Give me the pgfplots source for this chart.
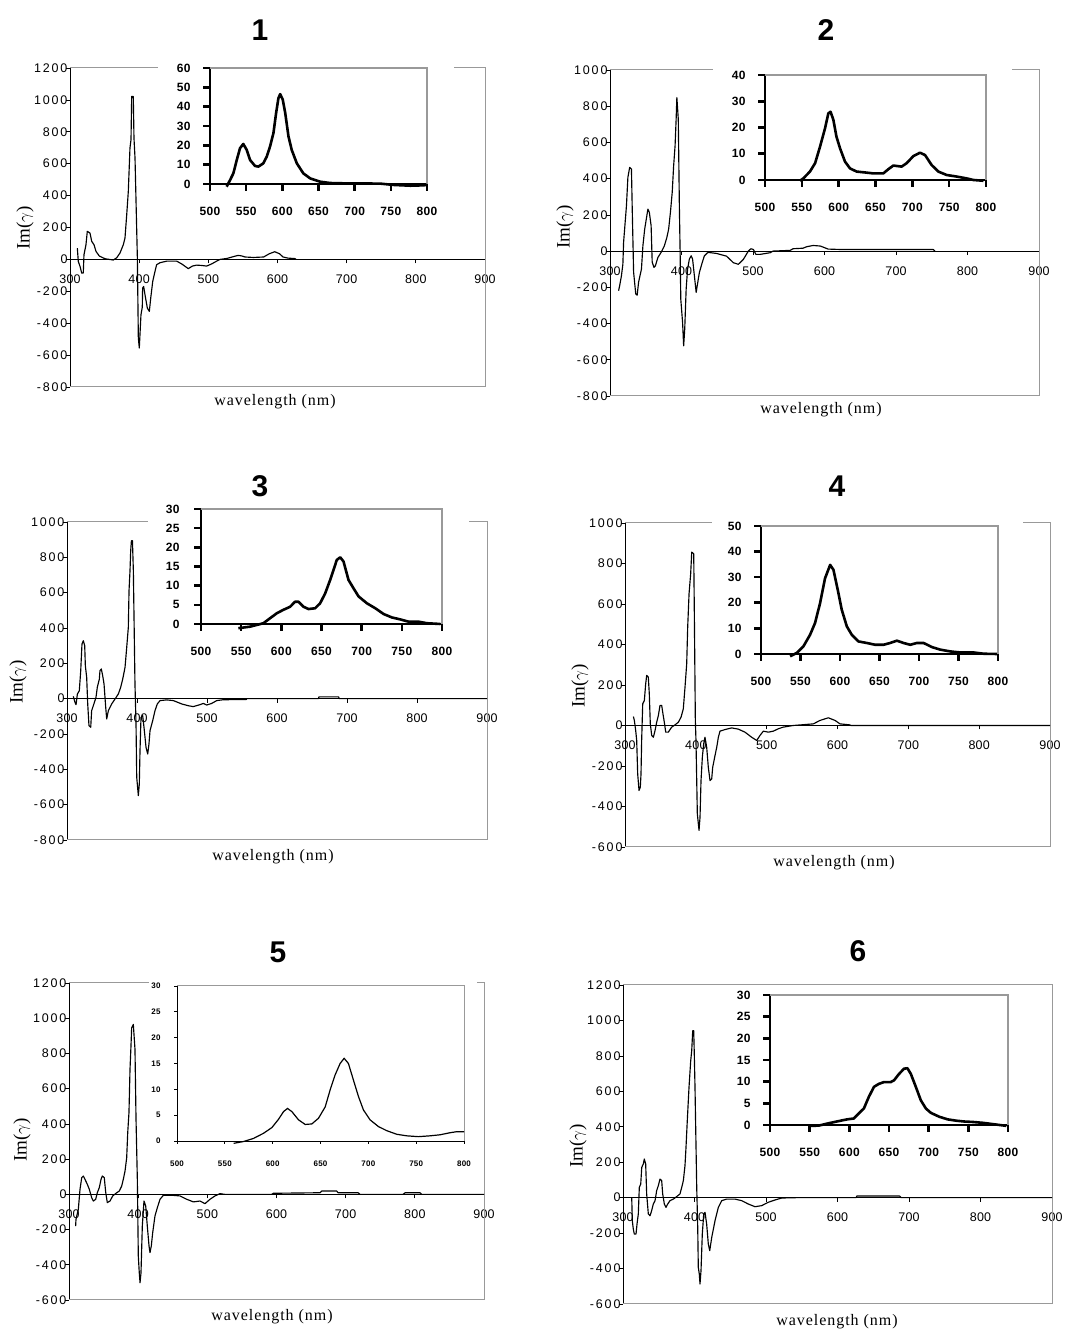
\documentclass[border=0pt]{standalone}
\usepackage{fontspec}
\usepackage{pgfplots}
\pgfplotsset{compat=1.18}
\setmainfont{Liberation Serif}
\newfontfamily\tickfy[LetterSpace=15]{Liberation Sans}
\newfontfamily\tickfx[LetterSpace=2]{Liberation Sans}
\newfontfamily\insf[LetterSpace=3]{Liberation Sans}
\newfontfamily\titf{Liberation Sans}
\newfontfamily\labf[LetterSpace=6]{Liberation Serif}
\definecolor{frame}{gray}{0.6}
\pgfplotsset{
  mainax/.style={
    scale only axis, clip=false,
    axis y line*=left, axis x line*=middle,
    hide obscured x ticks=false, hide obscured y ticks=false,
    xmin=300, xmax=900, xtick={300,400,...,900},
    tick align=outside, major tick length=4pt,
    axis line style={black, line width=0.7pt},
    tick style={black, line width=0.7pt},
    /pgf/number format/assume math mode=true,
    /pgf/number format/1000 sep={},
    xticklabel style={font=\fontsize{12.5}{13}\tickfx, yshift=-8pt},
    yticklabel style={font=\fontsize{12.5}{13}\tickfy, xshift=5pt},
  },
  maincurve/.style={black, line width=1.15pt, line join=round, mark=none},
  inax/.style={
    scale only axis, clip=false,
    axis y line*=left, axis x line*=bottom,
    xmin=500, xmax=800, xtick={500,550,...,800}, ymin=0,
    tick align=outside, major tick length=7pt,
    axis line style={black, line width=2.6pt},
    tick style={black, line width=2.6pt},
    /pgf/number format/assume math mode=true,
    /pgf/number format/1000 sep={},
    ticklabel style={font=\fontsize{12}{12}\insf\bfseries},
    xticklabel style={yshift=-13pt},
    yticklabel style={xshift=-9pt},
  },
  incurve/.style={black, line width=2.6pt, line join=round, mark=none},
}
\newcommand{\mainframe}{\draw[frame, line width=1pt] (rel axis cs:0,0) -- (rel axis cs:1,0) -- (rel axis cs:1,1) -- (rel axis cs:0,1);}
\newcommand{\inframe}{\draw[frame, line width=2.6pt] (rel axis cs:0,1) -- (rel axis cs:1,1) -- (rel axis cs:1,0);}
\begin{document}
\begin{tikzpicture}
\useasboundingbox (0,0) rectangle (1070pt,1329pt);

% ================= Panel 1 =================
\begin{axis}[mainax, at={(70pt,942pt)}, anchor=south west, width=415pt, height=319pt,
  ymin=-800, ymax=1200, ytick={-800,-600,...,1200}]
\mainframe
\addplot[maincurve] coordinates {(310.6,71)(312,-13)(314.5,-44)(316.9,-86)(319.2,-86)(320.2,29)(323.1,92)(325,176)(328.9,165)(331.4,113)(334.7,92)(337.6,50)(342.4,21)(350.6,4)(362.6,-4)(367.5,10)(372.3,40)(377.1,92)(379.5,134)(382,280)(384.3,426)(386.7,698)(388.2,750)(389.2,1022)(391.5,1022)(392.5,760)(394,635)(397.4,8)(398.8,-493)(400.2,-556)(402.6,-347)(404.5,-300)(405,-180)(406.5,-170)(408.4,-221)(411.8,-305)(414.7,-326)(416.7,-243)(419.6,-138)(422.9,-75)(425.3,-33)(430.1,-21)(439.8,-11)(454.3,-11)(462,-30)(471,-58)(477,-42)(483,-36)(490,-38)(497.6,-42)(505,-28)(512,-11)(517,0)(527,6)(536,17)(543,25)(548,22)(553,15)(565,12)(580,15)(588,35)(596,48)(603,35)(608,15)(615,8)(625,5)(627,0)};
\end{axis}
\fill[white] (158pt,1104pt) rectangle (454pt,1269pt);
\begin{axis}[inax, at={(210pt,1145pt)}, anchor=south west, width=217pt, height=116pt,
  ymax=60, ytick={0,10,...,60}]
\inframe
\addplot[incurve] coordinates {(523,-1.4)(527.7,2)(532.3,5.5)(537,12.4)(541.5,18.5)(546,20.7)(550.8,17.6)(555.4,12.4)(562.3,9.3)(567,9)(573.8,10.7)(578.5,14.2)(583,19.4)(587.7,26.3)(591.4,36.7)(594.6,44.4)(597,46.5)(600.6,43.6)(604,36.7)(608.5,24.6)(613,17.6)(620,10.7)(629,5.5)(638.5,2.9)(652,1.2)(666,0.5)(689,0.3)(735,0.2)(754,-0.5)(777,-0.9)(795,-0.7)(800,-0.5)};
\end{axis}

% ================= Panel 2 =================
\begin{axis}[mainax, at={(610pt,933pt)}, anchor=south west, width=429pt, height=326pt,
  ymin=-800, ymax=1000, ytick={-800,-600,...,1000}]
\mainframe
\addplot[maincurve] coordinates {(312,-219)(313.5,-191)(316,-136)(318,-72)(319,48)(323,250)(325,407)(327.5,462)(330,453)(331,250)(333,-116)(336,-237)(338,-243)(340,-171)(344,-99)(346,29)(348.5,121)(351.5,195)(353,232)(355,214)(357.5,140)(359,-61)(361.5,-90)(363.5,-81)(367,-35)(371.5,-7)(376,29)(379.5,75)(382,121)(384.5,214)(387,324)(389,471)(391,581)(392.5,729)(393.5,848)(395.5,729)(397,250)(398,11)(399,-265)(401.5,-394)(403,-523)(404.5,-431)(406.5,-210)(408.5,-99)(411,-44)(413.5,-26)(415.5,-44)(418,-136)(420.5,-228)(422,-191)(425,-118)(429,-63)(432,-26)(437,-7)(449,-13)(463,-28)(472.5,-64)(479.5,-73)(486.5,-46)(493.5,0)(497,13)(500.5,9)(504,-18)(510,-18)(524,-9)(528,0)(552,4)(556,13)(570,16)(575,24)(584,31)(594,28)(600.7,18)(605,11)(621.7,9)(668,9)(752,9)(754.5,0)};
\end{axis}
\fill[white] (713pt,1107pt) rectangle (1012pt,1267pt);
\begin{axis}[inax, at={(765pt,1149pt)}, anchor=south west, width=221pt, height=105pt,
  ymax=40, ytick={0,10,...,40}]
\inframe
\addplot[incurve] coordinates {(547.5,-0.3)(552,0.6)(561,3.2)(568,6.4)(574.7,12.7)(581.5,19.7)(586,25.4)(589,26)(592.8,22.9)(597,16.5)(601.8,12.1)(608.6,7)(615.4,4.4)(624.4,3.2)(638,2.8)(647,2.5)(660.6,2.5)(667.4,4.1)(674.2,5.5)(685.5,5.1)(692.3,6.4)(701.4,9.1)(710.4,10.4)(717.2,9.5)(726.2,5.7)(735.3,3.2)(746.6,1.9)(760.2,1.3)(773.8,0.6)(782.8,0)(796.4,-0.3)};
\end{axis}

% ================= Panel 3 =================
\begin{axis}[mainax, at={(67pt,489pt)}, anchor=south west, width=420pt, height=318pt,
  ymin=-800, ymax=1000, ytick={-800,-600,...,1000}]
\mainframe
\addplot[maincurve] coordinates {(309,13)(311.4,-21)(312.9,-34)(314.8,26)(317.6,45)(319.6,158)(321.4,309)(323.3,328)(325.3,300)(326.2,187)(328.1,121)(329.6,-30)(331.4,-153)(333.9,-162)(335.2,-68)(337.6,-40)(341.4,7)(343.3,64)(346.2,111)(347.1,158)(349,168)(351,130)(352.9,83)(355.3,-49)(356.7,-115)(359.1,-68)(363.8,-30)(368.6,-2)(373.3,26)(376.7,64)(379.6,111)(382.9,177)(385.3,290)(387.6,403)(388.6,611)(390,724)(391,838)(392,894)(393.5,894)(394.8,724)(397.1,83)(398.6,-143)(399.6,-445)(401.9,-549)(403.3,-483)(404.3,-294)(405.7,-106)(408.1,-96)(410,-162)(412.9,-276)(415.3,-313)(417.1,-256)(418.6,-181)(422.4,-125)(425.7,-68)(429,-30)(432.9,-11)(442.4,-7)(451.9,-11)(463.9,-30)(473.3,-40)(480.4,-45)(490,-34)(494.7,-27)(499.6,-36)(506.7,-27)(513.9,-11)(523.3,-6)(556,-5)(557,0)(659,0)(660,10)(688,10)(689,0)(900,0)};
\end{axis}
\fill[white] (148pt,661pt) rectangle (469pt,834pt);
\begin{axis}[inax, at={(201pt,705pt)}, anchor=south west, width=241pt, height=115pt,
  ymax=30, ytick={0,5,...,30}, yticklabel style={xshift=-2pt}]
\inframe
\addplot[incurve] coordinates {(546.5,-1.1)(561,-0.7)(577.7,0.2)(586,1.5)(594.3,2.8)(602.6,3.7)(611,4.5)(617,5.8)(621.3,5.8)(627.6,4.5)(633.8,3.9)(642,4.1)(648.3,5.4)(654.6,8)(660.8,11.5)(665,14.1)(669,16.7)(673.3,17.4)(677.4,16.3)(683.6,11.5)(689.9,9.3)(696.1,7.2)(706.5,5.4)(717,4.1)(727.3,2.6)(737.7,1.7)(748,1.2)(758.4,0.6)(770.9,0.6)(781.3,0.2)(797.9,0)};
\end{axis}

% ================= Panel 4 =================
\begin{axis}[mainax, at={(625pt,482pt)}, anchor=south west, width=425pt, height=324pt,
  ymin=-600, ymax=1000, ytick={-600,-400,...,1000}]
\mainframe
\addplot[maincurve] coordinates {(311.8,44)(313.2,25)(315.1,-25)(316.5,-74)(317.9,-239)(319.8,-321)(321.6,-305)(322.6,-239)(323.5,-74)(325,107)(327.3,123)(329.2,206)(330.6,247)(332.9,239)(334.3,156)(335.7,8)(337.7,-49)(340,-58)(342.4,-25)(344.7,16)(347.1,49)(349.4,99)(351.8,99)(353.2,66)(355.5,16)(357.5,-33)(361.1,-33)(365.9,-8)(370.6,3)(375.3,16)(379.1,41)(382.3,82)(384.7,189)(387.1,305)(388.5,486)(390.4,650)(392.7,749)(394.2,856)(397,848)(397.8,584)(399.3,25)(400.2,-74)(402.1,-436)(404.5,-518)(405.9,-453)(407.3,-272)(409.2,-156)(411.1,-90)(412.9,-58)(415.3,-107)(417.6,-206)(420,-272)(422.4,-264)(423.8,-206)(427.1,-148)(429.5,-107)(431.8,-58)(434.1,-28)(441.2,-20)(450.6,-12)(460,-18)(469.4,-33)(478.8,-58)(485.9,-74)(490.6,-49)(495.3,-28)(502.3,-33)(509.4,-28)(516.5,-16)(523.5,-8)(537.6,0)(565.9,8)(575.3,25)(587,38)(596.5,25)(603.5,8)(617.6,3)(618.6,0)(900,0)};
\end{axis}
\fill[white] (712pt,632pt) rectangle (1023pt,817pt);
\begin{axis}[inax, at={(761pt,675pt)}, anchor=south west, width=237pt, height=128pt,
  ymax=50, ytick={0,10,...,50}]
\inframe
\addplot[incurve] coordinates {(536.8,-0.9)(545.2,0.4)(553.7,3)(562.1,7.5)(568.4,12.1)(574.8,19.9)(581.1,29.6)(587.5,34.8)(591.7,32.9)(598,23.8)(602.2,17.3)(608.6,10.8)(614.9,7.5)(623.4,4.9)(633.9,4.3)(644.5,3.6)(655.1,3.6)(663.5,4.3)(672,5.2)(680.4,4.3)(688.9,3.6)(697.3,4.3)(705.8,4.3)(716.3,2.7)(726.9,1.7)(739.6,1)(752.3,0.6)(769.1,0.6)(781.8,0.1)(798.7,0)};
\end{axis}

% ================= Panel 5 =================
\begin{axis}[mainax, at={(69pt,29pt)}, anchor=south west, width=415pt, height=317pt,
  ymin=-600, ymax=1200, ytick={-600,-400,...,1200}]
\mainframe
\addplot[maincurve] coordinates {(309.6,-180)(310.1,-142)(313.5,-85)(315.9,28)(318.4,95)(320.7,104)(323.1,85)(326.5,57)(329.4,28)(332.8,-19)(335.2,-38)(338.6,-28)(341,10)(343.8,38)(346.3,85)(348.2,104)(351,95)(353.1,10)(355.4,-47)(359.3,-38)(363.2,-9)(368,6)(372.7,19)(376.2,47)(378.5,85)(381,132)(383.4,208)(384.9,350)(386.7,464)(388.2,710)(389.6,842)(390.6,946)(393,965)(395.4,823)(396.9,426)(398.8,85)(400.2,-350)(401.6,-445)(402.7,-502)(404.1,-445)(406,-180)(408.4,-38)(410.9,-66)(413.2,-180)(415.7,-293)(417.1,-331)(419,-293)(421,-218)(424.3,-123)(427.7,-76)(431.6,-28)(436.3,-6)(450.8,-6)(460.5,-9)(470.2,-28)(479.8,-43)(489.4,-38)(496.6,-53)(503.9,-28)(511.1,-9)(518.3,4)(525,0)(593,0)(595.5,6)(663,9)(665.5,19)(687,19)(689,9)(718,9)(720.7,0)(783,0)(786,9)(807.5,9)(810,0)(900,0)};
\end{axis}
\fill[white] (149pt,159pt) rectangle (477pt,354pt);
\begin{axis}[inax, at={(177pt,188pt)}, anchor=south west, width=287pt, height=155pt,
  ymax=30, ytick={0,5,...,30}, major tick length=3pt,
  axis line style={black, line width=0.9pt}, tick style={black, line width=0.9pt},
  ticklabel style={font=\fontsize{8}{8}\insf\bfseries},
  xticklabel style={yshift=0pt}, yticklabel style={xshift=-1pt}]
\draw[frame, line width=1pt] (rel axis cs:0,1) -- (rel axis cs:1,1) -- (rel axis cs:1,0);
\addplot[black, line width=1.2pt, mark=none] coordinates {(559.2,-0.45)(569.6,-0.1)(580,0.5)(590.5,1.5)(599.2,2.6)(606.1,4.2)(611.4,5.7)(615.5,6.3)(620,5.7)(627,4.1)(634,3.2)(640.9,3.3)(647.9,4.4)(654.9,6.6)(660.1,9.9)(665.3,12.8)(670.5,15)(674.7,16)(679.2,15)(684.4,11.8)(689.7,8.6)(694.9,6)(701.8,4.1)(710.5,2.8)(719.2,2)(729.7,1.3)(740.1,1)(752.3,0.84)(764.5,1)(774.9,1.2)(785.4,1.6)(792.3,1.8)(800,1.8)};
\end{axis}

% ================= Panel 6 =================
\begin{axis}[mainax, at={(623pt,25pt)}, anchor=south west, width=429pt, height=319pt,
  ymin=-600, ymax=1200, ytick={-600,-400,...,1200}]
\mainframe
\addplot[maincurve] coordinates {(312.2,0)(313,-130)(314.4,-177)(315.8,-205)(318.2,-205)(319.6,-149)(321.4,-92)(322.8,58)(324.8,77)(326.2,171)(328.4,190)(329.8,218)(331.7,190)(333.1,21)(335.4,-92)(337.8,-102)(340.1,-73)(342.4,-36)(344.8,-17)(347.1,40)(349.4,68)(351.7,105)(354.1,96)(355.5,21)(357.8,-36)(360.1,-55)(362.5,-36)(365.7,-17)(370.4,-8)(375.1,6)(379.7,21)(382.1,58)(384.4,96)(386.7,181)(388.1,284)(389.9,434)(392.3,622)(394.7,773)(396.1,830)(397.5,942)(398.9,942)(399.7,811)(400.7,622)(403.1,58)(404.5,-168)(405.3,-393)(406.7,-431)(407.7,-487)(409.1,-412)(410.9,-205)(412.9,-92)(414.7,-83)(417,-149)(419.3,-261)(421.3,-299)(424.1,-224)(428.7,-130)(433.3,-55)(438,-17)(445,-8)(456.6,-8)(466,-17)(475.3,-36)(484.6,-51)(494,-45)(503.2,-26)(512.6,-13)(522,-2)(542,0)(626,0)(627,9)(687,9)(689,0)(900,0)};
\end{axis}
\begin{axis}[inax, at={(770pt,204pt)}, anchor=south west, width=238pt, height=130pt,
  ymax=30, ytick={0,5,...,30}]
\inframe
\addplot[incurve] coordinates {(548.6,-0.2)(561.3,-0.15)(573.9,0.4)(586.6,0.9)(597.2,1.3)(605.6,1.5)(612,2.7)(618.3,3.8)(624.6,6.5)(631,8.8)(637.3,9.5)(643.7,9.9)(652.1,9.9)(656.3,10.3)(662.7,11.8)(669,13)(673.2,13.1)(677.5,11.8)(683.8,8.8)(690.1,5.7)(696.5,3.8)(702.8,2.8)(713.4,1.9)(723.9,1.3)(734.5,1)(745,0.8)(755.6,0.7)(768.3,0.5)(781,0.2)(797.9,-0.2)};
\end{axis}

% ================= Titles and labels =================
\tikzset{tit/.style={font=\fontsize{30}{30}\titf\bfseries, inner sep=0pt},
  ylab/.style={rotate=90, font=\fontsize{19}{19}\selectfont, inner sep=0pt},
  xlab/.style={font=\fontsize{16}{16}\labf, inner sep=0pt}}
\node[tit] at (260pt,1299pt) {1};
\node[tit] at (826pt,1299pt) {2};
\node[tit] at (260pt,843pt) {3};
\node[tit] at (837pt,843pt) {4};
\node[tit] at (278pt,377pt) {5};
\node[tit] at (858pt,378pt) {6};
\node[ylab] at (25pt,1101pt) {Im($\gamma$)};
\node[ylab] at (565pt,1102pt) {Im($\gamma$)};
\node[ylab] at (18pt,647pt) {Im($\gamma$)};
\node[ylab] at (580pt,643pt) {Im($\gamma$)};
\node[ylab] at (22pt,189pt) {Im($\gamma$)};
\node[ylab] at (578pt,183pt) {Im($\gamma$)};
\node[xlab] at (275pt,927pt) {wavelength (nm)};
\node[xlab] at (821pt,919pt) {wavelength (nm)};
\node[xlab] at (273pt,472pt) {wavelength (nm)};
\node[xlab] at (834pt,466pt) {wavelength (nm)};
\node[xlab] at (272pt,12pt) {wavelength (nm)};
\node[xlab] at (837pt,7pt) {wavelength (nm)};
\end{tikzpicture}
\end{document}
